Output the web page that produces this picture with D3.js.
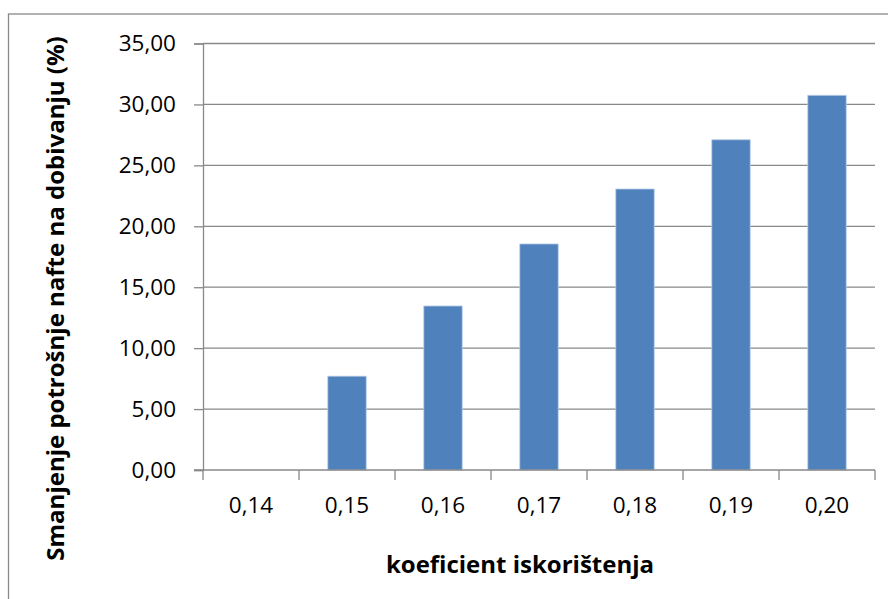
<!DOCTYPE html>
<html>
<head>
<meta charset="utf-8">
<script src="https://cdn.jsdelivr.net/npm/d3@7"></script>
<style>
  html, body { margin: 0; padding: 0; background: #fff; }
  svg { display: block; }
  text { font-family: "Open Sans", "Noto Sans", sans-serif; fill: #000; }
</style>
</head>
<body>
<svg id="chart" width="888" height="599"></svg>
<script>
const categories = ["0,14", "0,15", "0,16", "0,17", "0,18", "0,19", "0,20"];
const values = [0, 7.7, 13.46, 18.55, 23.06, 27.1, 30.75];
const yTicks = [0, 5, 10, 15, 20, 25, 30, 35];
const yTitle = "Smanjenje potrošnje nafte na dobivanju (%)";
const xTitle = "koeficient iskorištenja";

(function () {
const svg = d3.select("#chart");
const W = 888, H = 599;
const pLeft = 203, pRight = 875, pTop = 43.5, pBottom = 470;
const gridColor = "#898989";

// outer frame
svg.append("rect")
  .attr("x", 8.5).attr("y", 14)
  .attr("width", W + 10).attr("height", H + 10)
  .attr("fill", "none").attr("stroke", gridColor).attr("stroke-width", 1.3);

const x = d3.scaleBand().domain(categories).range([pLeft, pRight])
  .paddingInner(0.6).paddingOuter(0.3);
const y = d3.scaleLinear().domain([0, 35]).range([pBottom, pTop]);

// gridlines
svg.append("g").selectAll("line").data(yTicks.filter(d => d > 0)).join("line")
  .attr("x1", pLeft).attr("x2", pRight)
  .attr("y1", d => y(d)).attr("y2", d => y(d))
  .attr("stroke", gridColor).attr("stroke-width", 1.3);

// y axis
const yAxis = svg.append("g").attr("transform", `translate(${pLeft},0)`)
  .call(d3.axisLeft(y).tickValues(yTicks).tickSize(9).tickPadding(18)
    .tickFormat(d => d3.format(".2f")(d).replace(".", ",")));
yAxis.select(".domain").attr("stroke", gridColor).attr("stroke-width", 1.3);
yAxis.selectAll(".tick line").attr("stroke", gridColor).attr("stroke-width", 1.3);
yAxis.selectAll(".tick text").attr("font-size", 22.5).attr("fill", "#000")
  .style("font-family", '"Open Sans", sans-serif');

// bars
svg.append("g").selectAll("rect").data(values).join("rect")
  .attr("x", (d, i) => x(categories[i]))
  .attr("width", x.bandwidth())
  .attr("y", d => y(d))
  .attr("height", d => y(0) - y(d))
  .attr("fill", "#4F81BD")
  .attr("stroke", d => d > 0 ? "#b9cde6" : "none")
  .attr("stroke-width", 0.8);

// x axis line with ticks at category boundaries
const boundaries = categories.map(c => x(c) - x.step() * x.paddingInner() / 2);
boundaries.push(pRight);
const xg = svg.append("g");
xg.append("line").attr("x1", pLeft - 9).attr("x2", pRight)
  .attr("y1", pBottom).attr("y2", pBottom)
  .attr("stroke", gridColor).attr("stroke-width", 1.3);
xg.selectAll("line.tk").data(boundaries).join("line").attr("class", "tk")
  .attr("x1", d => d).attr("x2", d => d)
  .attr("y1", pBottom).attr("y2", pBottom + 10)
  .attr("stroke", gridColor).attr("stroke-width", 1.3);
xg.selectAll("text").data(categories).join("text")
  .attr("x", d => x(d) + x.bandwidth() / 2)
  .attr("y", 512.5)
  .attr("text-anchor", "middle")
  .attr("font-size", 22.5)
  .text(d => d);

// axis titles
svg.append("text")
  .attr("x", 520).attr("y", 573)
  .attr("text-anchor", "middle")
  .attr("font-size", 24).attr("font-weight", "bold")
  .text(xTitle);

svg.append("text")
  .attr("transform", `translate(64,298.5) rotate(-90)`)
  .attr("text-anchor", "middle")
  .attr("font-size", 24).attr("font-weight", "bold")
  .text(yTitle);
})();
</script>
</body>
</html>
